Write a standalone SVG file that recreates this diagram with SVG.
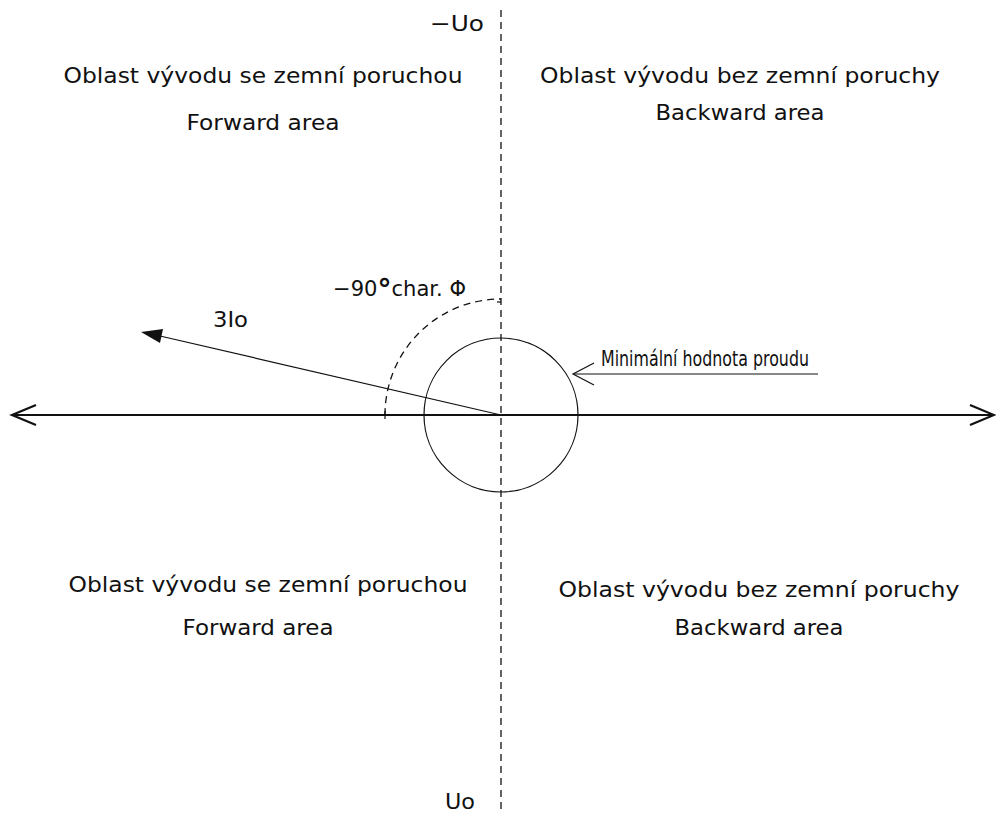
<svg xmlns="http://www.w3.org/2000/svg" width="996" height="814" viewBox="0 0 996 814">
<style>
text{font-family:"DejaVu Sans","Liberation Sans",sans-serif;fill:#111;font-size:21px;}
.lbl{text-anchor:middle;}
.thin{stroke:#111;fill:none;stroke-width:1.2;}
.dash{stroke:#111;fill:none;stroke-width:1.3;stroke-dasharray:7,5;}
</style>
<rect width="996" height="814" fill="#fff"/>
<g id="connectors">
<line id="v-axis" class="dash" x1="501" y1="10" x2="501" y2="814"/>
<line id="h-axis" x1="12" y1="415" x2="994" y2="415" stroke="#111" stroke-width="2.2"/>
<polyline points="36,405 12,415 36,425" fill="none" stroke="#111" stroke-width="2.2"/>
<polyline points="970,405 994,415 970,425" fill="none" stroke="#111" stroke-width="2.2"/>
<path class="dash" d="M385,415 A116,116 0 0 1 501,299"/>
<line class="thin" x1="385" y1="411" x2="385" y2="419"/>
<line class="thin" x1="497" y1="302" x2="501" y2="302"/>
<line id="v3Io" class="thin" x1="501" y1="415" x2="160" y2="336"/>
<polygon points="141,332 163,329 160,343" fill="#111"/>
<line class="thin" x1="574" y1="374" x2="818" y2="374"/>
<polyline class="thin" points="594,363 573,374 594,385"/>
</g>
<g id="circle"><circle cx="501" cy="415" r="77" class="thin"/></g>
<g id="q1"><text class="lbl" x="263" y="83" textLength="399" lengthAdjust="spacingAndGlyphs">Oblast vývodu se zemní poruchou</text><text class="lbl" x="263" y="130" textLength="153" lengthAdjust="spacingAndGlyphs">Forward area</text></g>
<g id="q2"><text class="lbl" x="740" y="83" textLength="400" lengthAdjust="spacingAndGlyphs">Oblast vývodu bez zemní poruchy</text><text class="lbl" x="740" y="120" textLength="169" lengthAdjust="spacingAndGlyphs">Backward area</text></g>
<g id="q3"><text class="lbl" x="268" y="592" textLength="399" lengthAdjust="spacingAndGlyphs">Oblast vývodu se zemní poruchou</text><text class="lbl" x="258" y="635" textLength="151" lengthAdjust="spacingAndGlyphs">Forward area</text></g>
<g id="q4"><text class="lbl" x="759" y="597" textLength="401" lengthAdjust="spacingAndGlyphs">Oblast vývodu bez zemní poruchy</text><text class="lbl" x="759" y="635" textLength="169" lengthAdjust="spacingAndGlyphs">Backward area</text></g>
<g id="labels">
<text x="430" y="31" textLength="54" lengthAdjust="spacingAndGlyphs">−Uo</text>
<text x="445" y="809" textLength="30" lengthAdjust="spacingAndGlyphs">Uo</text>
<text x="333" y="296" textLength="133" lengthAdjust="spacingAndGlyphs">−90<tspan font-size="28" font-weight="bold" dy="3">°</tspan><tspan dy="-3">char. Φ</tspan></text>
<text x="213" y="327" textLength="35" lengthAdjust="spacingAndGlyphs">3Io</text>
<text x="601" y="366" font-size="15" textLength="208" lengthAdjust="spacingAndGlyphs">Minimální hodnota proudu</text>
</g>
</svg>
